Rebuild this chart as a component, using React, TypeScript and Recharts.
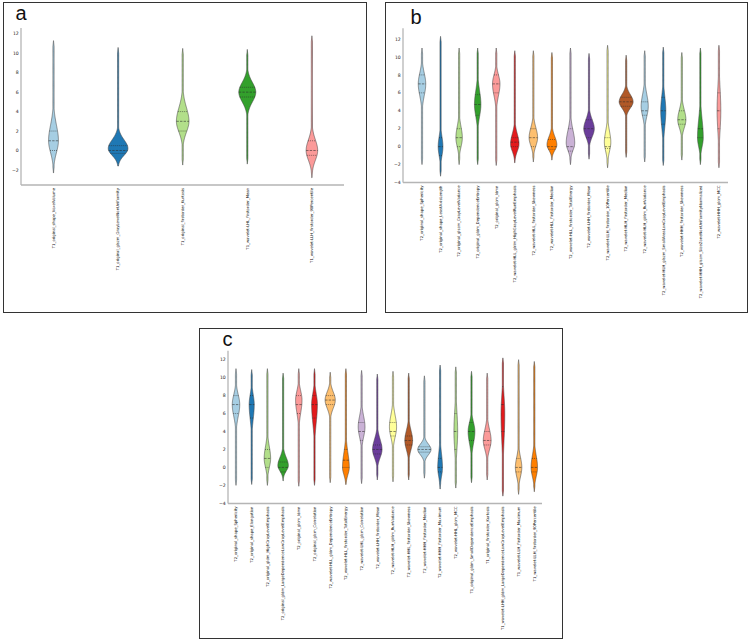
import { ComposedChart, Bar, XAxis, YAxis } from 'recharts';

// seaborn "Paired" palette, cycled per violin
const paired = [
  '#a6cee3', '#1f78b4', '#b2df8a', '#33a02c', '#fb9a99', '#e31a1c',
  '#fdbf6f', '#ff7f00', '#cab2d6', '#6a3d9a', '#ffff99', '#b15928',
];

// ---- panel a ----
const labelsA = [
  'T1_original_shape_VoxelVolume',
  'T1_original_glszm_GrayLevelNonUniformity',
  'T1_original_firstorder_Kurtosis',
  'T1_wavelet-LHL_firstorder_Mean',
  'T1_wavelet-LLH_firstorder_90Percentile',
];
const rangeA: [number, number][] = [[-2.3, 11.3], [-1.6, 10.6], [-1.5, 10.5], [-1.4, 10.4], [-2.8, 11.8]];
const quartA: [number, number, number][] = [[0, 1, 2], [-0.3, 0, 0.5], [2, 3, 4], [5.5, 6, 6.5], [-0.5, 0, 1]];
const modeA = [1, 0.2, 3, 6, 0];
const spreadA: [number, number][] = [[1.2, 1.6], [0.7, 0.9], [1.1, 1.4], [1.0, 1.0], [1.0, 1.1]];
const densityA = [0.29, 0.58, 0.37, 0.5, 0.34];

// ---- panel b ----
const labelsB = [
  'T2_original_shape_Sphericity',
  'T2_original_shape_LeastAxisLength',
  'T2_original_glszm_GrayLevelVariance',
  'T2_original_gldm_DependenceEntropy',
  'T2_original_glcm_Idmn',
  'T2_wavelet-HLL_glrlm_HighGrayLevelRunEmphasis',
  'T2_wavelet-HLL_firstorder_Skewness',
  'T2_wavelet-HLL_firstorder_Median',
  'T2_wavelet-HLL_firstorder_TotalEnergy',
  'T2_wavelet-LHH_firstorder_Mean',
  'T2_wavelet-LLH_firstorder_10Percentile',
  'T2_wavelet-HLH_firstorder_Median',
  'T2_wavelet-HLH_glrlm_RunVariance',
  'T2_wavelet-HLH_glszm_SmallAreaLowGrayLevelEmphasis',
  'T2_wavelet-HHH_firstorder_Skewness',
  'T2_wavelet-HHH_glszm_SizeZoneNonUniformityNormalized',
  'T2_wavelet-HHH_glcm_MCC',
];
const rangeB: [number, number][] = [
  [-2, 11], [-3.3, 12.3], [-2, 11], [-2, 11], [-2.1, 11], [-1.8, 10.7], [-1.7, 10.7], [-1.5, 10.5],
  [-2, 11], [-1.4, 10.4], [-2.35, 11.3], [-1.2, 10.2], [-1.7, 10.7], [-2.1, 11.1], [-1.5, 10.5], [-2, 11], [-2.35, 11.3],
];
const quartB: [number, number, number][] = [
  [6, 7, 8], [-1, 0, 1], [0, 1, 2], [3.5, 4.7, 5.8], [6, 7, 8], [0, 0.5, 1], [0, 1, 2], [-0.3, 0, 0.8],
  [-0.5, 0, 2], [1, 2, 3], [-0.2, 0, 1], [4.5, 5, 5.5], [3.5, 4, 5], [2.5, 4, 5.5], [2.5, 3, 4], [1, 2, 4], [2, 4, 6],
];
const modeB = [7, 0, 1, 4.7, 7, 0.3, 1, 0.2, 0.4, 2, 0.5, 5, 4.5, 4, 3, 1, 4];
const spreadB: [number, number][] = [
  [1.3, 1.2], [1.0, 1.1], [1.0, 1.2], [1.3, 1.5], [1.3, 1.0], [0.8, 1.1], [0.9, 1.1], [0.6, 0.9],
  [0.8, 1.4], [0.9, 1.0], [1.0, 1.2], [0.7, 0.8], [1.1, 1.3], [1.8, 1.6], [0.9, 1.1], [1.0, 2.0], [2.2, 2.5],
];
const densityB = [0.22, 0.14, 0.19, 0.19, 0.22, 0.25, 0.25, 0.29, 0.25, 0.31, 0.19, 0.41, 0.21, 0.15, 0.24, 0.17, 0.11];

// ---- panel c ----
const labelsC = [
  'T2_original_shape_Sphericity',
  'T2_original_shape_Elongation',
  'T2_original_gldm_HighGrayLevelEmphasis',
  'T2_original_gldm_LargeDependenceLowGrayLevelEmphasis',
  'T2_original_glcm_Idmn',
  'T2_original_glcm_Correlation',
  'T2_wavelet-HLL_gldm_DependenceEntropy',
  'T2_wavelet-HLL_firstorder_TotalEnergy',
  'T2_wavelet-LHL_glcm_Correlation',
  'T2_wavelet-LHH_firstorder_Mean',
  'T2_wavelet-HLH_glrlm_RunVariance',
  'T2_wavelet-HHL_firstorder_Skewness',
  'T2_wavelet-HHH_firstorder_Median',
  'T2_wavelet-HHH_firstorder_Maximum',
  'T2_wavelet-HHL_glcm_MCC',
  'T1_original_gldm_SmallDependenceEmphasis',
  'T1_original_firstorder_Kurtosis',
  'T1_wavelet-LHH_gldm_LargeDependenceLowGrayLevelEmphasis',
  'T1_wavelet-LLH_firstorder_Maximum',
  'T1_wavelet-LLH_firstorder_90Percentile',
];
const rangeC: [number, number][] = [
  [-2, 11], [-1.9, 10.9], [-2, 11], [-1.5, 10.5], [-2.1, 11], [-2, 11], [-1.7, 10.6], [-1.9, 11], [-1.8, 10.8], [-1.4, 10.4],
  [-1.6, 10.7], [-1.4, 10.5], [-1.2, 10.2], [-2.4, 11.4], [-2.3, 11.2], [-1.7, 10.7], [-1.4, 10.5], [-3.2, 12.2], [-3, 12], [-2.7, 11.8],
];
const quartC: [number, number, number][] = [
  [6, 7, 8], [5.5, 7, 8], [0, 1, 2], [-0.5, 0, 0.6], [6, 7, 8], [5.5, 7, 8], [7, 7.5, 8], [0, 0.8, 2], [3, 4, 5], [1.5, 2, 2.5],
  [3.5, 4, 5], [2.5, 3, 3.5], [1.7, 2, 2.3], [-0.5, 0, 1], [2, 4, 6], [3, 4, 5], [2.5, 3, 4], [4, 7, 9], [-0.5, 0, 1], [-0.5, 0, 1],
];
const modeC = [7, 7, 1, 0.2, 7.5, 7, 7.5, 0, 4.5, 2, 4.5, 3, 2, 0, 4, 4, 3, 6, 0, 0];
const spreadC: [number, number][] = [
  [1.3, 1.1], [1.6, 1.1], [1.0, 1.3], [0.6, 0.9], [1.4, 1.0], [2.0, 1.2], [0.9, 0.9], [0.8, 1.6], [1.1, 1.2], [0.9, 1.1],
  [1.1, 1.3], [1.0, 1.1], [0.6, 0.6], [1.0, 1.5], [2.0, 2.2], [1.3, 1.0], [1.0, 1.2], [3.0, 2.0], [1.0, 1.1], [1.0, 1.3],
];
const densityC = [0.22, 0.15, 0.19, 0.31, 0.19, 0.17, 0.3, 0.2, 0.2, 0.28, 0.21, 0.23, 0.39, 0.14, 0.11, 0.2, 0.23, 0.11, 0.19, 0.19];

const yTicksA = [-2, 0, 2, 4, 6, 8, 10, 12];
const yTicksBC = [-4, -2, 0, 2, 4, 6, 8, 10, 12];

type Row = {
  name: string;
  range: [number, number];
  q: [number, number, number];
  mode: number;
  sd: [number, number];
  dens: number;
};

const buildRows = (
  labels: string[],
  range: [number, number][],
  quart: [number, number, number][],
  mode: number[],
  spread: [number, number][],
  density: number[],
): Row[] =>
  labels.map((name, i) => ({ name, range: range[i], q: quart[i], mode: mode[i], sd: spread[i], dens: density[i] }));

const rowsA = buildRows(labelsA, rangeA, quartA, modeA, spreadA, densityA);
const rowsB = buildRows(labelsB, rangeB, quartB, modeB, spreadB, densityB);
const rowsC = buildRows(labelsC, rangeC, quartC, modeC, spreadC, densityC);

const PX_PER_DENSITY = 34;
const FRAME = '#b5b5b5';
const EDGE = '#444';

function ViolinShape(props: any) {
  const { x, y, width, height, payload, index } = props;
  const [lo, hi] = payload.range as [number, number];
  const toY = (v: number) => y + (height * (hi - v)) / (hi - lo);
  const cx = x + width / 2;
  const half = (payload.dens * PX_PER_DENSITY) / 2;
  const hw = (v: number) => {
    const s = v < payload.mode ? payload.sd[0] : payload.sd[1];
    const g = half * Math.exp(-0.5 * ((v - payload.mode) / s) ** 2);
    const edge = Math.max(0, Math.min(1, (v - lo) / 0.6, (hi - v) / 0.6));
    return Math.max(g, 0.6 * edge);
  };
  const n = 140;
  const right: string[] = [];
  const left: string[] = [];
  for (let k = 0; k <= n; k++) {
    const v = hi - ((hi - lo) * k) / n;
    right.push(`${(cx + hw(v)).toFixed(2)},${toY(v).toFixed(2)}`);
    left.unshift(`${(cx - hw(v)).toFixed(2)},${toY(v).toFixed(2)}`);
  }
  const d = `M${right.join('L')}L${left.join('L')}Z`;
  return (
    <g>
      <path d={d} fill={paired[index % paired.length]} stroke={EDGE} strokeWidth={0.55} />
      {(payload.q as number[]).map((qv, k) => (
        <line
          key={k}
          x1={cx - hw(qv)}
          x2={cx + hw(qv)}
          y1={toY(qv)}
          y2={toY(qv)}
          stroke="#2a2a2a"
          strokeWidth={0.55}
          strokeDasharray={k === 1 ? '2.4 1.2' : '1 1'}
        />
      ))}
    </g>
  );
}

function RotatedTick(props: any) {
  const { x, y, payload } = props;
  return (
    <text
      x={x}
      y={y}
      transform={`rotate(-90, ${x}, ${y})`}
      textAnchor="end"
      dominantBaseline="central"
      fontSize={3.8}
      fontFamily="DejaVu Sans"
      fill="#111"
    >
      {payload.value}
    </text>
  );
}

type PanelProps = {
  rows: Row[];
  width: number;
  height: number;
  margin: { top: number; right: number; bottom: number; left: number };
  xAxisHeight: number;
  domain: [number, number];
  ticks: number[];
  padLeft: number;
};

function ViolinPanel({ rows, width, height, margin, xAxisHeight, domain, ticks, padLeft }: PanelProps) {
  const frameLine = { stroke: FRAME, strokeWidth: 1.3 };
  return (
    <ComposedChart width={width} height={height} data={rows} margin={margin} barCategoryGap={0} barGap={0}>
      <XAxis
        dataKey="name"
        interval={0}
        height={xAxisHeight}
        tick={(p: any) => <RotatedTick {...p} />}
        tickSize={1}
        tickMargin={2}
        tickLine={false}
        axisLine={frameLine}
        padding={{ left: padLeft, right: 0 }}
      />
      <XAxis xAxisId="top" orientation="top" dataKey="name" height={0} tick={false} tickLine={false} axisLine={frameLine} />
      <YAxis
        type="number"
        domain={domain}
        ticks={ticks}
        interval={0}
        width={10}
        allowDataOverflow
        tickSize={1}
        tickMargin={1.2}
        tickLine={false}
        axisLine={frameLine}
        tick={{ fontSize: 4.6, fill: '#222', fontFamily: 'DejaVu Sans' }}
        tickFormatter={(v: number) => String(v).replace('-', '\u2212')}
      />
      <YAxis yAxisId="right" orientation="right" width={0} tick={false} tickLine={false} axisLine={frameLine} />
      <Bar dataKey="range" shape={ViolinShape} isAnimationActive={false} />
    </ComposedChart>
  );
}

const frameStyle = (left: number, top: number, w: number, h: number): React.CSSProperties => ({
  position: 'absolute',
  left,
  top,
  width: w,
  height: h,
  boxSizing: 'border-box',
  border: '1.5px solid #333',
  background: '#fff',
});

const abs = (left: number, top: number): React.CSSProperties => ({ position: 'absolute', left, top });

export default function App() {
  return (
    <div style={{ position: 'absolute', left: 0, top: 0, width: 750, height: 643, background: '#fff' }}>
      <div style={frameStyle(3, 2, 364, 310.5)} />
      <div style={frameStyle(384.5, 2, 363.5, 311)} />
      <div style={frameStyle(198.5, 327.5, 364.5, 311)} />

      <div style={abs(0, 0)}>
        <ViolinPanel
          rows={rowsA}
          width={370}
          height={315}
          margin={{ top: 28, right: 26, bottom: 0, left: 11 }}
          xAxisHeight={130}
          domain={[-3.55, 12.6]}
          ticks={yTicksA}
          padLeft={0}
        />
      </div>
      <div style={abs(375, 0)}>
        <ViolinPanel
          rows={rowsB}
          width={370}
          height={315}
          margin={{ top: 28.3, right: 17, bottom: 0, left: 18 }}
          xAxisHeight={132.5}
          domain={[-4, 13.2]}
          ticks={yTicksBC}
          padLeft={9.5}
        />
      </div>
      <div style={abs(190, 320)}>
        <ViolinPanel
          rows={rowsC}
          width={370}
          height={323}
          margin={{ top: 30.7, right: 18, bottom: 0, left: 28 }}
          xAxisHeight={139.5}
          domain={[-4.02, 13]}
          ticks={yTicksBC}
          padLeft={0}
        />
      </div>

      <svg width={750} height={643} style={{ position: 'absolute', left: 0, top: 0, pointerEvents: 'none' }}>
        <g fontFamily="Liberation Sans" fontSize={20} fill="#111">
          <text x={15.5} y={20}>a</text>
          <text x={410.5} y={24}>b</text>
          <text x={222.5} y={346}>c</text>
        </g>
      </svg>
    </div>
  );
}
